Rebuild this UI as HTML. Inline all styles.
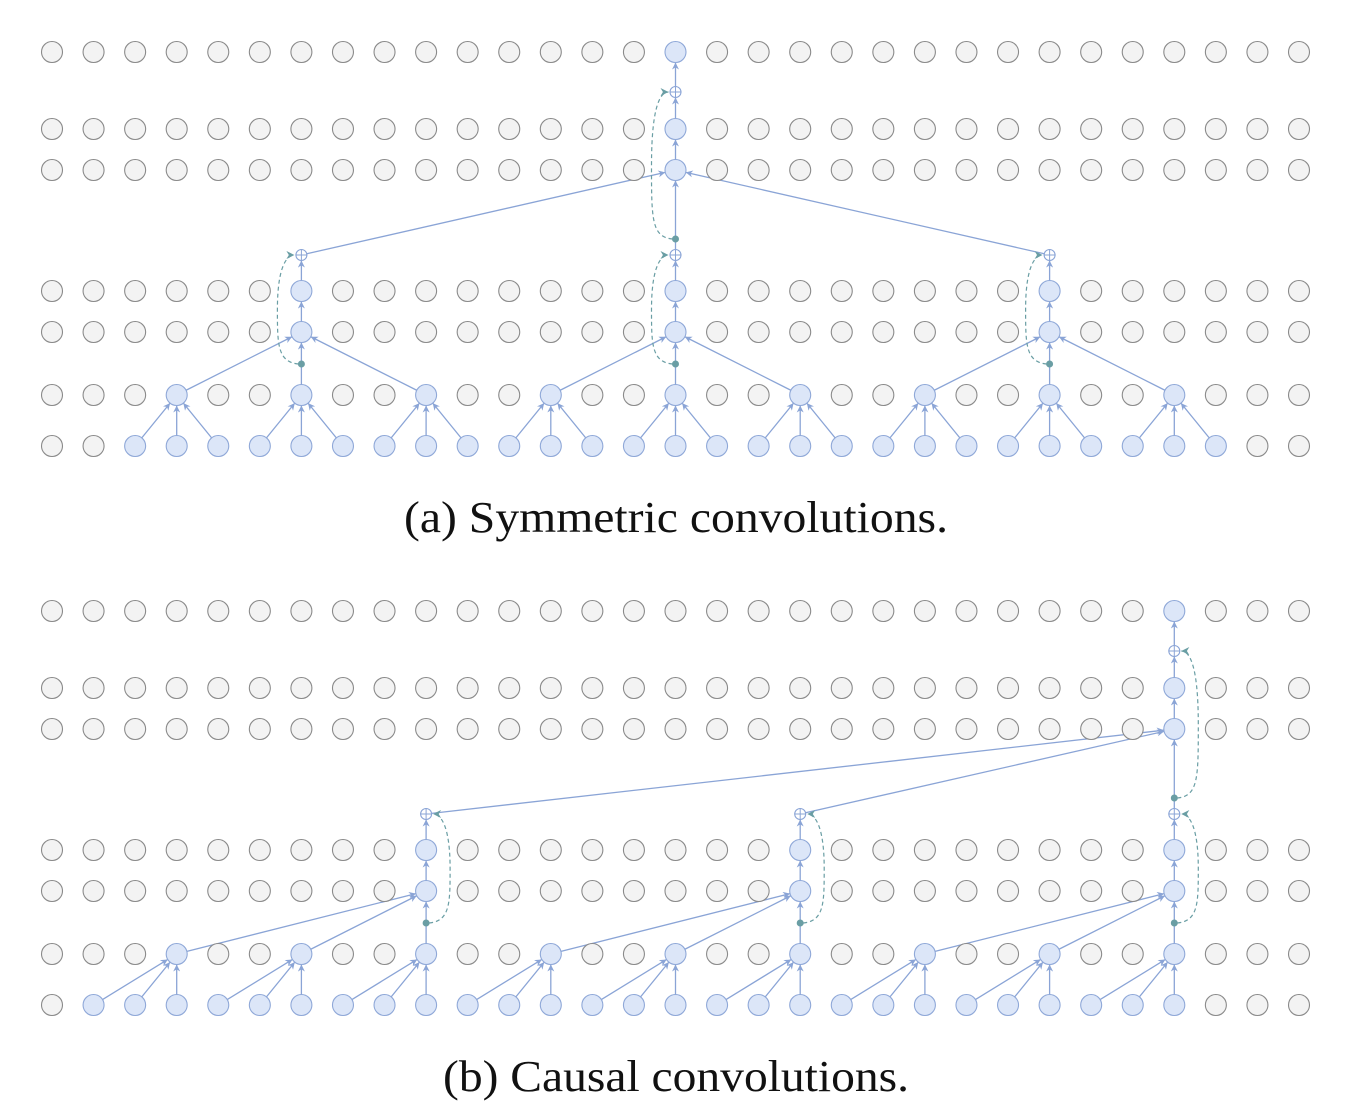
<!DOCTYPE html>
<html><head><meta charset="utf-8"><style>
html,body{margin:0;padding:0;background:#fff;width:1372px;height:1104px;overflow:hidden}
svg{display:block}
.cap{font-family:"Liberation Serif",serif;font-size:44px;fill:#111}
</style></head><body>
<svg id="fig" width="1372" height="1104" viewBox="0 0 1372 1104" xmlns="http://www.w3.org/2000/svg">
<defs>
<marker id="ah" viewBox="0 0 10 10" refX="10" refY="5" markerWidth="7" markerHeight="7" orient="auto-start-reverse" markerUnits="userSpaceOnUse"><path d="M0,0 L10,5 L0,10 L3,5 z" fill="#8aa4d6"/></marker>
<marker id="ahd" viewBox="0 0 10 10" refX="10" refY="5" markerWidth="8" markerHeight="8" orient="auto" markerUnits="userSpaceOnUse"><path d="M0,0 L10,5 L0,10 L3,5 z" fill="#6a9ea4"/></marker>
</defs>
<text class="cap" x="676" y="532" text-anchor="middle" textLength="544" lengthAdjust="spacingAndGlyphs">(a) Symmetric convolutions.</text>
<text class="cap" x="676" y="1091" text-anchor="middle" textLength="466" lengthAdjust="spacingAndGlyphs">(b) Causal convolutions.</text>
</svg>
<script>
// diagram data
const nCols = 31;
const rowYA = [52,129,170,291,332,395,446];
const rowYB = [611,688,729,850,891,954,1005];
const topColA = 15, topColB = 27;
const midColsA = [6,15,24];
const midColsB = [9,18,27];
const lowColsA = [3,6,9,12,15,18,21,24,27];
const lowColsB = [3,6,9,12,15,18,21,24,27];
const offsA = [-1,0,1];   // input offsets for bottom layer
const offsB = [-2,-1,0];
const midOffsA = [-3,0,3];
const midOffsB = [-6,-3,0];

const svg=document.getElementById('fig');
const NS='http://www.w3.org/2000/svg';
const X=c=>52+c*(1299-52)/30;
const R=10.5;
function el(t,a,name){const e=document.createElementNS(NS,t);for(const k in a)e.setAttribute(k,a[k]);


svg.appendChild(e);return e;}
function edge(x1,y1,r1,x2,y2,r2){const dx=x2-x1,dy=y2-y1,L=Math.hypot(dx,dy);
el('line',{x1:x1+dx/L*r1,y1:y1+dy/L*r1,x2:x2-dx/L*r2,y2:y2-dy/L*r2,stroke:'#8aa4d6','stroke-width':1.3,'marker-end':'url(#ah)'},'edge');}
function sum(x,y){el('circle',{cx:x,cy:y,r:5.5,fill:'#fff',stroke:'#8aa4d6','stroke-width':1.1},'sum-node');
el('path',{d:`M${x-5.5},${y}H${x+5.5}M${x},${y-5.5}V${y+5.5}`,stroke:'#8aa4d6','stroke-width':1},'sum-sign');}
function dot(x,y){el('circle',{cx:x,cy:y,r:3.5,fill:'#6a9ea4'},'residual-dot');}
function dash(x,y1,y2,side){const s=side,xo=x+s*24;
el('path',{d:`M${x+s*3},${y1} C${xo},${y1-2} ${xo},${y1-20} ${xo},${(y1+y2)/2} C${xo},${y2+10} ${x+s*14},${y2} ${x+s*7},${y2}`,fill:'none',stroke:'#6a9ea4','stroke-width':1.2,'stroke-dasharray':'4,3','marker-end':'url(#ahd)'},'residual-connection');}

function panel(rows,topCol,midCols,lowCols,offs,midOffs,side){
  const hi=[new Set([topCol]),new Set([topCol]),new Set([topCol]),new Set(midCols),new Set(midCols),new Set(lowCols),new Set()];
  lowCols.forEach(c=>offs.forEach(o=>hi[6].add(c+o)));
  const sumTop=rows[0]+40, dotTop=rows[2]+69, sumMid=rows[2]+85, dotMid=rows[4]+32;
  // edges
  lowCols.forEach(c=>offs.forEach(o=>edge(X(c+o),rows[6],R,X(c),rows[5],R)));
  midCols.forEach(c=>{
    midOffs.forEach(o=>edge(X(c+o),rows[5],R,X(c),rows[4],R));
    edge(X(c),rows[4],R,X(c),rows[3],R);
    edge(X(c),rows[3],R,X(c),sumMid,5.5);
    if(c===topCol){edge(X(c),sumMid,5.5,X(topCol),rows[2],R);}
    else edge(X(c),sumMid,5.5,X(topCol),rows[2],R);
    dot(X(c),dotMid);dash(X(c),dotMid,sumMid,side);sum(X(c),sumMid);
  });
  edge(X(topCol),rows[2],R,X(topCol),rows[1],R);
  edge(X(topCol),rows[1],R,X(topCol),sumTop,5.5);
  edge(X(topCol),sumTop,5.5,X(topCol),rows[0],R);
  dot(X(topCol),dotTop);dash(X(topCol),dotTop,sumTop,side);sum(X(topCol),sumTop);
  rows.forEach((y,ri)=>{for(let c=0;c<nCols;c++){const h=hi[ri].has(c);
    el('circle',{cx:X(c),cy:y,r:R,fill:h?'#dce6f8':'#f3f3f3',stroke:h?'#8fa8d8':'#8a8a8a','stroke-width':1.1},h?'active-node':'inactive-node');}});
}
panel(rowYA,topColA,midColsA,lowColsA,offsA,midOffsA,-1);
panel(rowYB,topColB,midColsB,lowColsB,offsB,midOffsB,1);
</script>
</body></html>
